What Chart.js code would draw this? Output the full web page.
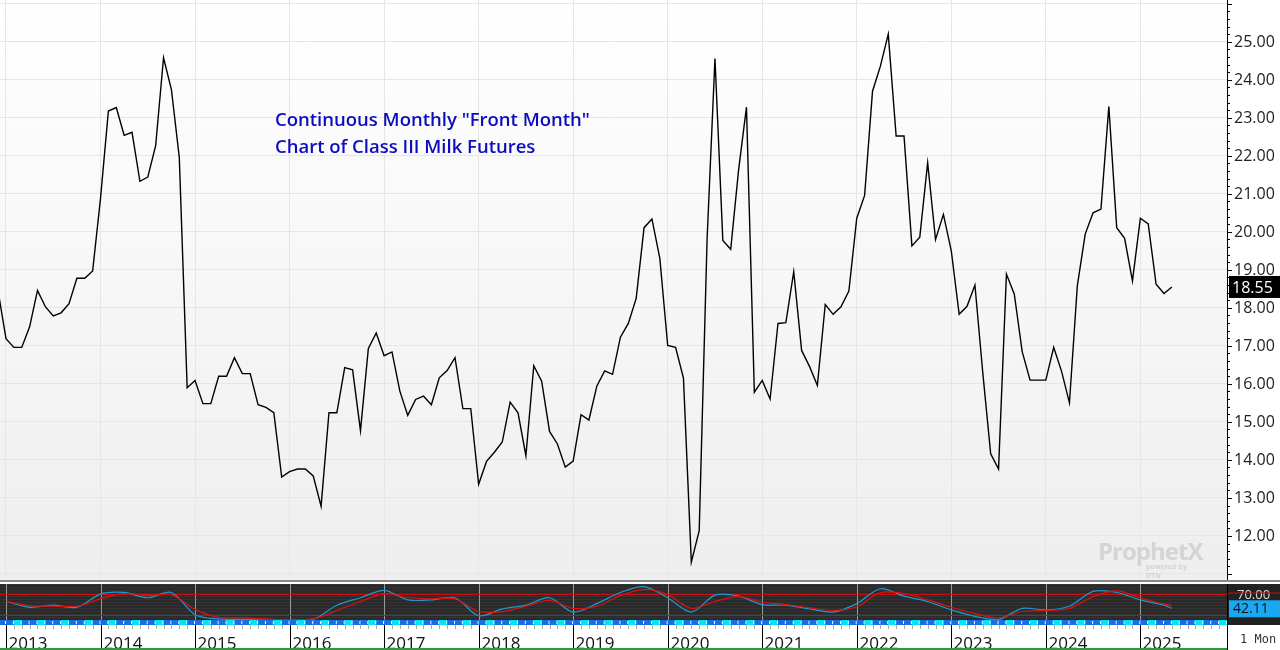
<!DOCTYPE html>
<html>
<head>
<meta charset="utf-8">
<script src="https://cdn.jsdelivr.net/npm/chart.js@4.4.1/dist/chart.umd.min.js"></script>
<style>
  body { margin: 0; width: 1280px; height: 650px; background: #fff; overflow: hidden; position: relative; font-family: "Open Sans", "Noto Sans", sans-serif; }
  #main { position: absolute; left: 0; top: 0; }
  #ind { position: absolute; left: 0; top: 582px; }
  .title { position: absolute; left: 275px; color: #0c0cc0; font-size: 18.5px; font-weight: 600; font-family: "Open Sans", sans-serif; }
  .wm { position: absolute; left: 1098px; top: 534px; color: #d4d4d4; font: bold 24px "Open Sans", sans-serif; letter-spacing: -1px; }
  .wm small { position: absolute; left: 48px; top: 28px; font-size: 7px; letter-spacing: 0; }
</style>
</head>
<body>
<canvas id="main" width="1280" height="582"></canvas>
<canvas id="ind" width="1280" height="68"></canvas>
<div class="title" style="top:106px">Continuous Monthly "Front Month"</div>
<div class="title" style="top:133px">Chart of Class III Milk Futures</div>
<div class="wm">ProphetX<small>powered by DTN</small></div>
<script>
// months counted from Jan 2013 = 0, first point is Dec 2012
var startMonth = -1;
var years = ['2013','2014','2015','2016','2017','2018','2019','2020','2021','2022','2023','2024','2025'];
var priceTicks = [12, 13, 14, 15, 16, 17, 18, 19, 20, 21, 22, 23, 24, 25];
var milkPrice = [
  18.44, 17.19, 16.96, 16.96, 17.50, 18.46, 18.03, 17.79, 17.87, 18.11, 18.78, 18.78, 18.97,
  20.88, 23.18, 23.27, 22.54, 22.62, 21.33, 21.44, 22.27, 24.58, 23.74, 21.96, 15.90,
  16.09, 15.48, 15.48, 16.20, 16.20, 16.69, 16.27, 16.27, 15.45, 15.38, 15.24, 13.55,
  13.69, 13.76, 13.76, 13.58, 12.78, 15.24, 15.24, 16.43, 16.37, 14.77, 16.93, 17.34,
  16.74, 16.84, 15.81, 15.17, 15.59, 15.68, 15.45, 16.16, 16.35, 16.69, 15.35, 15.35,
  13.36, 13.96, 14.20, 14.47, 15.52, 15.24, 14.11, 16.48, 16.07, 14.75, 14.42, 13.81,
  13.97, 15.19, 15.05, 15.94, 16.34, 16.25, 17.23, 17.59, 18.25, 20.11, 20.34, 19.30,
  17.01, 16.96, 16.15, 11.31, 12.14, 19.80, 24.56, 19.77, 19.54, 21.63, 23.28, 15.78,
  16.09, 15.60, 17.59, 17.61, 18.95, 16.88, 16.46, 15.96, 18.09, 17.83, 18.03, 18.44,
  20.36, 20.96, 23.70, 24.36, 25.20, 22.52, 22.52, 19.63, 19.86, 21.82, 19.80, 20.46,
  19.50, 17.83, 18.04, 18.60, 16.29, 14.16, 13.76, 18.89, 18.36, 16.85, 16.10, 16.10,
  16.10, 16.96, 16.33, 15.50, 18.58, 19.94, 20.50, 20.60, 23.30, 20.11, 19.83, 18.71,
  20.36, 20.21, 18.62, 18.38, 18.55
];
var lastPrice = 18.55;
// indicator readings, every 3 months from Jan 2013
var indMonths = [0,3,6,9,12,15,18,21,24,27,30,33,36,39,42,45,48,51,54,57,60,63,66,69,72,75,78,81,84,87,90,93,96,99,102,105,108,111,114,117,120,123,126,129,132,135,138,141,144,147,148];
var indFast = [55,44,48,44,69,72,62,72,30,22,21,20,20,21,48,62,76,58,58,62,28,41,48,62,35,51,72,83,62,35,67,65,49,48,41,35,51,79,65,55,39,27,21,42,39,46,74,72,58,48,42.11];
var indSlow = [55,47,46,46,60,70,66,68,40,25,24,22,20,22,38,55,70,62,60,60,36,36,46,57,42,46,66,78,68,42,55,64,54,49,43,38,45,72,70,58,44,32,24,36,38,42,64,75,62,50,48];
var indLevels = [70, 30];
var lastInd = 42.11;

var xMin = -0.76, xMax = 155;

var mainPts = milkPrice.map(function (v, i) { return { x: startMonth + i, y: v }; });

var plotBg = {
  id: 'plotBg',
  beforeDraw: function (chart) {
    var a = chart.chartArea, c = chart.ctx;
    var g = c.createLinearGradient(0, a.top, 0, a.bottom);
    g.addColorStop(0, '#ffffff');
    g.addColorStop(1, '#eeeeee');
    c.save();
    c.fillStyle = g;
    c.fillRect(a.left, a.top, a.right - a.left, a.bottom - a.top);
    c.restore();
  },
  afterDraw: function (chart) {
    var a = chart.chartArea, c = chart.ctx, ys = chart.scales.y;
    c.save();
    c.strokeStyle = '#000';
    c.lineWidth = 1;
    c.beginPath();
    c.moveTo(a.right + 0.5, 0); c.lineTo(a.right + 0.5, chart.height);
    c.stroke();
    // minor ticks on the price axis
    for (var v = 11; v <= 26; v += 0.2) {
      var py = Math.round(ys.getPixelForValue(v)) + 0.5;
      var len = Math.abs(v - Math.round(v)) < 0.01 ? 5 : 3;
      c.beginPath(); c.moveTo(a.right, py); c.lineTo(a.right + len, py); c.stroke();
    }
    c.fillStyle = '#222';
    c.font = '16px "Open Sans", sans-serif';
    c.textBaseline = 'middle';
    priceTicks.forEach(function (t) {
      c.fillText(t.toFixed(2), a.right + 7, ys.getPixelForValue(t) + 1);
    });
    var y = ys.getPixelForValue(lastPrice);
    c.fillStyle = '#000';
    c.fillRect(a.right + 2, y - 11, 52, 22);
    c.fillStyle = '#fff';
    c.fillText(lastPrice.toFixed(2), a.right + 5, y + 1);
    c.fillStyle = '#888';
    c.fillRect(0, chart.height - 2, chart.width, 2);
    c.restore();
  }
};

new Chart(document.getElementById('main'), {
  type: 'line',
  data: { datasets: [{ data: mainPts, borderColor: '#000', borderWidth: 1.4, pointRadius: 0, tension: 0 }] },
  options: {
    animation: false, responsive: false,
    layout: { padding: { left: 0, right: 0, top: 0, bottom: 2 } },
    plugins: { legend: { display: false }, tooltip: { enabled: false } },
    scales: {
      x: {
        type: 'linear', min: xMin, max: xMax, display: true,
        ticks: { display: false },
        afterBuildTicks: function (s) { s.ticks = years.map(function (y, i) { return { value: i * 12 }; }); },
        afterFit: function (s) { s.height = 0; },
        grid: { color: '#e6e6e6', drawTicks: false }, border: { display: false }
      },
      y: {
        position: 'right', min: 10.84, max: 26.1,
        afterBuildTicks: function (s) { var t = []; for (var v = 11; v <= 26; v++) t.push({ value: v }); s.ticks = t; },
        afterFit: function (s) { s.width = 53; },
        ticks: { display: false },
        grid: { color: '#e6e6e6', drawTicks: false }, border: { display: false }
      }
    }
  },
  plugins: [plotBg]
});

var indDeco = {
  id: 'indDeco',
  beforeDraw: function (chart) {
    var a = chart.chartArea, c = chart.ctx, xs = chart.scales.x, ys = chart.scales.y;
    c.save();
    c.fillStyle = '#2a2a2a';
    c.fillRect(a.left, a.top, a.right - a.left, a.bottom - a.top);
    c.fillStyle = '#333';
    for (var yy = a.top; yy < a.bottom; yy += 3) c.fillRect(a.left, yy, a.right - a.left, 1);
    c.strokeStyle = '#999'; c.lineWidth = 1;
    years.forEach(function (y, i) {
      var px = Math.round(xs.getPixelForValue(i * 12)) + 0.5;
      c.beginPath(); c.moveTo(px, a.top); c.lineTo(px, a.bottom); c.stroke();
    });
    c.strokeStyle = '#c81010';
    indLevels.forEach(function (l) {
      var py = Math.round(ys.getPixelForValue(l)) + 0.5;
      c.beginPath(); c.moveTo(a.left, py); c.lineTo(a.right, py); c.stroke();
    });
    c.restore();
  },
  afterDraw: function (chart) {
    var a = chart.chartArea, c = chart.ctx, xs = chart.scales.x, ys = chart.scales.y;
    c.save();
    // month strip
    for (var m = -1; m < 155; m++) {
      var x0 = xs.getPixelForValue(m), x1 = xs.getPixelForValue(m + 1);
      c.fillStyle = (m % 3 === 1) ? '#00e5f0' : '#1a6fe0';
      c.fillRect(x0, a.bottom, x1 - x0, 5);
      c.fillStyle = '#fff';
      c.fillRect(x1 - 1, a.bottom + 1, 1, 3);
    }
    // time axis
    c.fillStyle = '#fff';
    c.fillRect(0, a.bottom + 5, chart.width, chart.height - a.bottom - 5);
    c.lineWidth = 1;
    c.font = '17px "Open Sans", sans-serif';
    c.textBaseline = 'middle';
    for (var mm = 0; mm < 155; mm++) {
      var px = Math.round(xs.getPixelForValue(mm)) + 0.5;
      c.strokeStyle = '#aaa';
      c.beginPath(); c.moveTo(px, a.bottom + 5); c.lineTo(px, a.bottom + 9); c.stroke();
    }
    years.forEach(function (y, i) {
      var px = Math.round(xs.getPixelForValue(i * 12)) + 0.5;
      c.strokeStyle = '#000';
      c.beginPath(); c.moveTo(px, a.bottom + 5); c.lineTo(px, chart.height); c.stroke();
      c.fillStyle = '#111';
      c.fillText(y, px + 2, a.bottom + 24);
    });
    c.fillStyle = '#2a9a3a';
    c.fillRect(0, chart.height - 2, a.right, 2);
    // right side
    c.fillStyle = '#fff';
    c.fillRect(a.right, 0, chart.width - a.right, chart.height);
    c.fillStyle = '#000';
    c.fillRect(a.right, a.top, 1, chart.height);
    c.fillStyle = '#222';
    c.fillRect(a.right + 1, a.top, chart.width - a.right, a.bottom - a.top + 5);
    c.fillStyle = '#ddd';
    c.font = '13px "Open Sans", sans-serif';
    c.fillText('70.00', a.right + 10, ys.getPixelForValue(70) + 2);
    c.fillStyle = '#c81010';
    c.fillRect(a.right + 1, ys.getPixelForValue(70) - 1, 53, 1);
    var py = ys.getPixelForValue(lastInd);
    c.fillStyle = '#1aa8f0';
    c.fillRect(a.right + 2, py - 8, 52, 17);
    c.fillStyle = '#111';
    c.font = '14px "Open Sans", sans-serif';
    c.fillText(lastInd.toFixed(2), a.right + 6, py + 1);
    c.fillStyle = '#333';
    c.font = '12px "DejaVu Sans Mono", monospace';
    c.fillText('1 Mon', a.right + 13, a.bottom + 20);
    c.restore();
  }
};

new Chart(document.getElementById('ind'), {
  type: 'line',
  data: {
    datasets: [
      { data: indMonths.map(function (m, i) { return { x: m, y: indSlow[i] }; }), borderColor: '#e01010', borderWidth: 1.2, pointRadius: 0, tension: 0.3 },
      { data: indMonths.map(function (m, i) { return { x: m, y: indFast[i] }; }), borderColor: '#1a9ad0', borderWidth: 1.2, pointRadius: 0, tension: 0.3 }
    ]
  },
  options: {
    animation: false, responsive: false,
    layout: { padding: { top: 2, bottom: 30 } },
    plugins: { legend: { display: false }, tooltip: { enabled: false } },
    scales: {
      x: { type: 'linear', min: xMin, max: xMax, display: false },
      y: { position: 'right', min: 20, max: 88, afterFit: function (s) { s.width = 53; },
        ticks: { display: false }, grid: { display: false }, border: { display: false } }
    }
  },
  plugins: [indDeco]
});
</script>
</body>
</html>
